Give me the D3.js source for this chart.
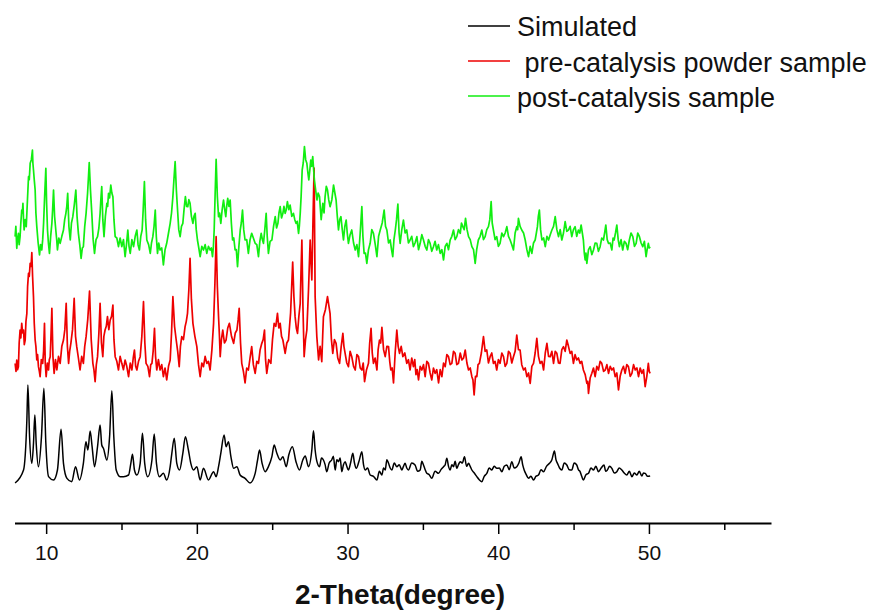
<!DOCTYPE html>
<html>
<head>
<meta charset="utf-8">
<script src="https://cdn.jsdelivr.net/npm/d3@7"></script>
<style>
  body { margin: 0; background: #fff; }
  svg { display: block; font-family: Arial, "Liberation Sans", sans-serif; }
</style>
</head>
<body>
<svg id="chart" width="878" height="610"></svg>
<script>
// ---------- DATA (2θ in degrees, intensity in a.u. above each pattern's own baseline) ----------
const simTheta = [7.94,8.50,8.72,8.79,8.90,9.05,9.16,9.25,9.34,9.49,9.69,9.85,9.98,10.16,10.49,10.75,10.99,11.15,11.38,11.70,11.95,12.21,12.47,12.64,12.77,12.92,13.05,13.21,13.41,13.58,13.69,13.80,14.03,14.21,14.36,14.49,14.65,14.91,15.13,15.47,15.62,15.73,15.86,16.02,16.24,16.39,16.54,16.74,17.02,17.17,17.32,17.52,17.78,18.00,18.23,18.34,18.50,18.67,18.85,19.07,19.24,19.44,19.60,19.78,20.00,20.22,20.44,20.77,21.11,21.28,21.44,21.59,21.81,21.94,22.10,22.26,22.44,22.66,22.87,23.20,23.53,23.87,24.03,24.16,24.33,24.53,24.75,24.98,25.13,25.31,25.53,25.71,25.93,26.10,26.34,26.58,26.81,27.03,27.19,27.41,27.63,27.74,27.85,27.97,28.14,
  28.27,28.40,28.51,28.62,28.78,28.95,29.06,29.18,29.29,29.40,29.51,29.62,29.73,29.84,29.95,30.06,30.20,30.35,30.46,30.58,30.76,30.95,31.06,31.17,31.33,31.50,31.72,31.95,32.11,32.28,32.39,32.50,32.61,32.72,32.83,32.94,33.10,33.27,33.43,33.60,33.71,33.82,33.93,34.04,34.26,34.48,34.65,34.82,34.93,35.04,35.15,35.26,35.42,35.59,35.81,36.04,36.20,36.37,36.48,36.59,36.70,36.81,36.92,37.03,37.14,37.25,37.36,37.48,37.62,37.76,37.90,38.03,38.14,38.25,38.41,38.58,38.74,38.91,39.07,39.24,39.40,39.57,39.73,39.90,40.07,40.24,40.40,40.57,40.73,40.90,41.06,41.23,41.37,41.52,41.62,41.72,41.86,42.01,42.17,42.34,42.50,42.67,42.84,43.01,43.20,43.40,43.56,43.73,43.83,43.93,44.07,44.22,44.38,44.55,44.71,44.88,45.04,45.21,45.32,45.43,45.54,45.65,45.82,45.99,46.15,46.32,46.48,46.65,46.83,47.02,47.13,47.24,47.39,47.54,47.70,47.87,48.03,48.20,48.36,48.53,48.70,48.87,49.03,49.20,49.36,49.53,49.64,49.75,49.91,50.08];
const simIntensity = [0,39,189,294,139,59,119,204,119,49,139,284,119,19,9,39,161,59,14,4,49,9,59,124,99,156,109,49,109,174,114,104,69,139,277,139,39,19,19,24,59,86,39,24,59,149,59,19,69,147,59,19,29,9,49,89,134,59,39,89,139,99,59,39,49,9,44,9,34,19,49,89,144,109,124,79,44,49,24,14,0,29,69,99,59,34,49,79,114,89,69,79,49,84,109,64,39,69,81,49,99,157,99,64,49,
  75,69,55,34,60,69,80,39,70,64,75,34,55,64,50,39,60,89,60,44,65,94,55,39,45,24,20,9,35,24,45,39,70,59,45,39,60,49,55,39,50,59,45,39,60,54,35,39,65,54,40,29,25,14,35,29,40,49,55,74,50,39,55,49,65,44,55,64,60,79,50,59,50,39,30,19,10,4,20,29,45,39,50,44,45,34,50,54,40,64,45,49,60,79,55,39,25,14,20,9,20,24,40,34,50,59,70,96,70,59,45,39,60,54,40,39,60,54,40,34,20,9,25,29,45,39,50,34,45,54,35,39,50,44,30,34,45,39,30,24,35,19,30,24,35,21,30,29,20,21];

const preTheta = [7.94,8.00,8.05,8.10,8.16,8.21,8.27,8.32,8.38,8.44,8.50,8.55,8.61,8.66,8.72,8.77,8.83,8.88,8.94,9.00,9.05,9.10,9.16,9.21,9.27,9.32,9.38,9.43,9.49,9.55,9.60,9.68,9.77,9.83,9.89,9.94,10.00,10.08,10.16,10.21,10.27,10.32,10.38,10.45,10.53,10.62,10.71,10.82,10.93,11.04,11.15,11.24,11.33,11.41,11.49,11.56,11.64,11.75,11.86,11.95,12.03,12.14,12.25,12.36,12.47,12.56,12.65,12.76,12.88,12.99,13.10,13.17,13.25,13.33,13.41,13.50,13.58,13.67,13.76,13.83,13.91,13.99,14.07,14.16,14.25,14.34,14.43,14.50,14.58,14.69,14.80,14.91,15.02,15.13,15.24,15.35,15.47,15.58,15.69,15.78,15.86,15.94,16.02,16.13,16.24,16.35,16.46,16.55,16.63,16.75,16.86,16.94,17.02,17.10,17.19,17.26,17.34,17.45,17.56,17.67,17.78,17.89,18.00,18.12,18.23,18.32,18.41,18.52,18.63,18.73,18.83,18.91,19.00,19.11,19.22,19.30,19.38,19.47,19.55,19.64,19.74,19.87,20.00,20.11,20.22,20.33,20.44,20.55,20.66,20.77,20.88,21.00,21.11,21.20,21.28,21.36,21.44,21.50,21.55,21.63,21.72,21.83,21.94,22.05,22.16,22.30,22.44,22.55,22.66,22.74,22.81,22.90,22.98,23.09,23.20,23.31,23.42,23.53,23.64,23.75,23.87,23.98,24.09,24.20,24.31,24.40,24.49,24.56,24.64,24.77,24.91,25.02,25.13,25.24,25.35,25.44,25.53,25.62,25.71,25.78,25.86,25.97,26.08,26.22,26.36,26.44,26.52,26.60,26.68,26.77,26.86,26.91,26.97,27.04,27.12,27.21,27.30,27.41,27.52,27.58,27.63,27.70,27.78,27.82,27.85,27.96,28.08,28.18,28.29,28.35,
  28.40,28.53,28.67,28.75,28.84,28.93,29.02,29.13,29.24,29.35,29.47,29.58,29.69,29.76,29.84,29.95,30.06,30.17,30.28,30.40,30.51,30.62,30.73,30.84,30.95,31.04,31.13,31.26,31.39,31.47,31.56,31.64,31.72,31.83,31.95,32.03,32.12,32.20,32.28,32.39,32.50,32.61,32.72,32.80,32.87,32.96,33.05,33.16,33.27,33.36,33.45,33.56,33.67,33.80,33.93,34.04,34.15,34.26,34.37,34.46,34.54,34.62,34.71,34.82,34.93,35.04,35.15,35.26,35.37,35.48,35.59,35.70,35.81,35.92,36.04,36.15,36.26,36.37,36.48,36.59,36.70,36.81,36.92,37.03,37.14,37.25,37.36,37.48,37.59,37.70,37.81,37.92,38.03,38.14,38.25,38.32,38.40,38.49,38.58,38.66,38.75,38.88,39.02,39.13,39.24,39.35,39.46,39.57,39.68,39.79,39.90,40.01,40.12,40.24,40.35,40.46,40.57,40.68,40.79,40.90,41.01,41.12,41.23,41.34,41.45,41.56,41.68,41.79,41.90,42.01,42.12,42.23,42.34,42.45,42.56,42.67,42.78,42.90,43.01,43.12,43.23,43.34,43.45,43.56,43.67,43.78,43.89,44.00,44.10,44.22,44.33,44.44,44.55,44.66,44.77,44.88,44.99,45.10,45.21,45.32,45.43,45.54,45.65,45.77,45.88,45.94,45.99,46.10,46.21,46.32,46.43,46.54,46.65,46.76,46.87,46.99,47.10,47.21,47.32,47.43,47.54,47.65,47.76,47.87,47.98,48.09,48.20,48.31,48.42,48.53,48.64,48.76,48.87,48.98,49.09,49.20,49.31,49.42,49.53,49.64,49.75,49.86,49.96,50.02,50.08];
const preIntensity = [59,35,69,40,49,120,159,135,179,150,159,115,129,185,209,290,329,320,359,350,391,320,259,180,129,110,69,85,49,35,19,70,59,95,179,60,19,60,39,70,79,140,224,80,29,70,39,80,59,110,129,160,239,110,59,95,119,160,254,140,109,75,39,80,59,110,139,190,276,130,59,40,4,55,79,150,239,120,79,140,159,170,199,160,189,200,234,130,79,65,39,80,59,40,69,50,19,60,39,75,99,50,39,65,79,140,244,120,59,50,19,55,59,95,164,80,39,70,39,55,19,45,9,50,69,150,259,170,129,95,49,110,139,130,169,185,209,280,374,250,179,140,109,55,19,60,49,80,59,65,39,100,179,300,439,290,199,140,79,130,159,120,129,165,179,140,119,150,159,190,224,120,59,35,0,45,39,75,109,55,29,65,59,100,119,130,159,70,29,70,59,130,179,170,209,165,179,140,129,110,89,120,129,210,363,260,199,165,149,200,239,330,429,230,79,130,159,280,429,360,309,470,645,430,259,140,69,110,64,140,
  199,220,259,235,209,130,89,130,119,75,59,110,149,110,89,60,49,95,79,50,39,85,79,45,39,60,4,40,59,120,164,90,59,75,39,100,129,120,167,100,79,110,109,65,39,45,0,90,159,110,89,110,79,90,59,70,39,75,49,70,25,40,9,50,39,55,19,65,59,30,9,45,29,40,0,40,19,60,49,85,79,55,59,95,89,55,59,90,69,75,99,60,39,45,19,10,-36,20,19,55,59,90,139,95,99,60,79,90,59,65,39,70,59,90,79,50,59,95,89,60,79,95,144,100,99,55,39,45,19,30,-1,50,59,90,134,80,59,65,39,90,119,80,79,95,59,95,89,60,59,100,109,95,129,110,89,95,59,85,69,75,59,65,39,25,-1,5,-31,15,29,45,19,50,39,65,59,35,39,55,29,50,39,45,19,30,-21,20,39,50,29,55,49,20,29,55,39,45,19,45,29,40,-11,20,59,35,29];

const postTheta = [7.94,7.99,8.05,8.10,8.16,8.21,8.27,8.32,8.38,8.42,8.46,8.50,8.54,8.61,8.68,8.76,8.83,8.88,8.94,9.02,9.09,9.12,9.16,9.21,9.27,9.32,9.38,9.47,9.56,9.63,9.71,9.77,9.83,9.90,9.98,10.03,10.09,10.15,10.22,10.30,10.38,10.43,10.49,10.56,10.64,10.70,10.75,10.84,10.93,11.04,11.15,11.23,11.31,11.37,11.43,11.51,11.60,11.68,11.77,11.87,11.97,12.05,12.14,12.23,12.32,12.40,12.47,12.56,12.65,12.75,12.86,12.94,13.03,13.12,13.21,13.31,13.41,13.50,13.58,13.63,13.69,13.76,13.84,13.93,14.03,14.08,14.14,14.21,14.29,14.36,14.43,14.50,14.58,14.69,14.80,14.91,15.02,15.13,15.24,15.33,15.42,15.50,15.58,15.69,15.80,15.91,16.02,16.10,16.19,16.28,16.37,16.44,16.52,16.60,16.68,16.80,16.91,16.99,17.08,17.16,17.24,17.31,17.39,17.47,17.56,17.67,17.78,17.89,18.00,18.12,18.23,18.32,18.41,18.48,18.56,18.64,18.72,18.80,18.89,18.98,19.07,19.15,19.24,19.32,19.40,19.47,19.55,19.64,19.74,19.81,19.89,19.96,20.04,20.13,20.22,20.33,20.44,20.55,20.66,20.77,20.88,20.96,21.04,21.10,21.15,21.21,21.28,21.36,21.44,21.51,21.59,21.68,21.77,21.85,21.92,21.98,22.05,22.13,22.21,22.29,22.37,22.45,22.54,22.62,22.70,22.79,22.88,22.95,23.03,23.11,23.20,23.31,23.42,23.53,23.64,23.75,23.87,23.98,24.09,24.18,24.27,24.35,24.42,24.51,24.60,24.67,24.75,24.86,24.98,25.09,25.20,25.29,25.38,25.45,25.53,25.62,25.71,25.78,25.86,25.93,26.01,26.10,26.19,26.30,26.41,26.50,26.58,26.66,26.75,26.80,26.86,26.92,26.99,27.06,27.14,27.22,27.30,27.37,27.43,27.50,27.56,27.62,27.69,27.75,27.80,27.88,27.97,28.05,28.14,28.25,
  28.36,28.44,28.51,28.59,28.67,28.75,28.84,28.96,29.07,29.16,29.24,29.32,29.40,29.48,29.56,29.65,29.73,29.82,29.91,29.98,30.06,30.17,30.28,30.40,30.51,30.62,30.73,30.84,30.95,31.02,31.10,31.19,31.28,31.39,31.50,31.61,31.72,31.84,31.95,32.06,32.17,32.30,32.43,32.52,32.61,32.72,32.83,32.92,33.00,33.08,33.17,33.25,33.34,33.42,33.49,33.60,33.71,33.82,33.93,34.04,34.15,34.26,34.37,34.48,34.60,34.71,34.82,34.93,35.04,35.15,35.26,35.37,35.48,35.59,35.70,35.81,35.92,36.03,36.15,36.26,36.37,36.48,36.59,36.70,36.81,36.92,37.03,37.14,37.25,37.36,37.48,37.56,37.65,37.74,37.83,37.93,38.03,38.14,38.25,38.36,38.47,38.57,38.68,38.80,38.91,39.02,39.13,39.24,39.35,39.44,39.53,39.60,39.68,39.79,39.90,40.01,40.12,40.24,40.35,40.46,40.57,40.68,40.79,40.90,41.01,41.12,41.23,41.29,41.34,41.45,41.56,41.68,41.79,41.90,42.01,42.12,42.23,42.34,42.45,42.53,42.60,42.66,42.73,42.81,42.90,43.01,43.12,43.23,43.34,43.45,43.56,43.67,43.78,43.89,44.00,44.11,44.22,44.33,44.44,44.55,44.66,44.77,44.88,44.99,45.10,45.21,45.32,45.41,45.50,45.58,45.65,45.71,45.77,45.82,45.88,45.99,46.10,46.21,46.32,46.43,46.54,46.65,46.76,46.87,46.98,47.06,47.14,47.23,47.32,47.43,47.54,47.62,47.69,47.78,47.87,47.96,48.04,48.15,48.26,48.37,48.48,48.59,48.70,48.81,48.93,49.04,49.15,49.26,49.37,49.48,49.59,49.70,49.81,49.88,49.96,50.02,50.08];
const postIntensity = [79,110,44,70,89,55,79,120,159,150,179,130,99,130,109,190,259,250,299,310,339,300,279,250,219,150,109,60,24,55,39,70,119,200,284,180,99,60,29,80,119,160,219,140,99,70,39,75,59,80,99,130,149,170,209,110,69,120,139,175,219,140,89,55,14,45,49,110,149,210,301,220,149,70,29,70,79,105,149,190,229,130,79,140,179,170,209,195,234,210,199,130,79,75,49,75,49,70,19,55,99,50,29,70,49,80,99,55,39,80,99,160,244,130,69,55,29,60,79,110,159,80,29,60,39,45,-6,40,59,90,119,150,199,250,304,220,159,100,79,110,119,160,199,170,169,190,179,140,119,140,149,100,69,45,19,50,39,55,29,50,39,45,19,50,99,200,311,200,139,150,119,160,189,160,139,170,194,170,189,120,69,75,39,40,-11,50,99,120,159,100,69,70,29,70,89,75,59,55,19,65,89,70,59,100,149,80,29,65,69,110,139,105,119,150,169,135,149,170,149,160,184,160,174,140,149,130,119,125,89,110,149,200,279,300,349,310,299,270,249,280,309,290,319,280,249,220,189,210,199,130,
  179,150,199,230,219,190,169,190,234,210,189,140,99,130,139,100,69,110,129,90,59,85,99,60,39,55,19,90,169,80,29,30,-1,40,59,100,89,55,19,80,99,120,159,110,99,60,69,40,19,70,99,130,177,90,59,100,129,90,99,60,69,80,49,60,79,40,59,85,69,50,39,70,59,35,49,65,39,55,29,40,9,50,59,40,69,80,99,70,79,100,89,120,109,100,134,100,79,70,49,40,-1,40,69,80,99,70,79,100,109,130,184,120,99,70,79,50,59,90,79,90,109,80,69,55,39,90,109,100,134,110,99,90,69,40,19,50,29,60,69,90,109,140,159,100,69,75,49,80,69,85,99,110,139,100,79,100,69,90,124,95,99,110,79,100,109,80,99,90,114,90,69,30,9,30,-1,40,49,25,39,60,59,35,49,75,69,90,114,70,59,60,39,75,69,90,114,70,49,70,39,65,59,40,69,90,79,50,59,90,79,60,49,65,19,40,59,45,49];

const seriesNames   = ["Simulated", " pre-catalysis powder sample", "post-catalysis sample"];
const seriesOffsets = [0, 300, 660];           // vertical stacking offsets (a.u.)
const xTickValues   = [10, 20, 30, 40, 50];
const xMinorTicks   = [15, 25, 35, 45, 55];
const xAxisTitle    = "2-Theta(degree)";

// ---------- SETUP ----------
const seriesColors = ["#000000", "#ee0000", "#11ee11"];
const seriesData = [
  d3.zip(simTheta, simIntensity),
  d3.zip(preTheta, preIntensity),
  d3.zip(postTheta, postIntensity)
];

const svg = d3.select("#chart");
const x = d3.scaleLinear().domain([7.9, 58.1]).range([14.5, 771]);
const y = d3.scaleLinear().domain([0, 1440]).range([483, 3]);
const axisY = 523;

// ---------- TRACES ----------
seriesData.forEach((data, i) => {
  const line = d3.line()
    .curve(i === 0 ? d3.curveMonotoneX : d3.curveLinear)
    .x(d => x(d[0]))
    .y(d => y(d[1] + seriesOffsets[i]));
  svg.append("path")
    .datum(data)
    .attr("fill", "none")
    .attr("stroke", seriesColors[i])
    .attr("stroke-width", i === 0 ? 1.5 : 1.7)
    .attr("stroke-linejoin", "round")
    .attr("d", line);
});

// ---------- X AXIS ----------
const gMinor = svg.append("g").attr("transform", `translate(0,${axisY})`)
  .call(d3.axisBottom(x).tickValues(xMinorTicks).tickSize(7).tickFormat(""));
gMinor.select(".domain").remove();
gMinor.selectAll(".tick line").attr("stroke", "#000").attr("stroke-width", 1.5);

const gAxis = svg.append("g").attr("transform", `translate(0,${axisY})`)
  .call(d3.axisBottom(x).tickValues(xTickValues).tickSize(11).tickSizeOuter(0).tickPadding(11).tickFormat(d3.format("d")));
gAxis.select(".domain").attr("stroke", "#000").attr("stroke-width", 2);
gAxis.selectAll(".tick line").attr("stroke", "#000").attr("stroke-width", 1.5);
gAxis.selectAll(".tick text")
  .attr("fill", "#111")
  .style("font-family", "Arial, 'Liberation Sans', sans-serif")
  .style("font-size", "21px");

svg.append("text")
  .attr("x", 400)
  .attr("y", 604)
  .attr("text-anchor", "middle")
  .style("font-size", "28px")
  .style("font-weight", "bold")
  .attr("fill", "#111")
  .text(xAxisTitle);

// ---------- LEGEND ----------
const legendBaselines = [36, 71.5, 107];
const legendLineY = [26, 61, 96];
seriesNames.forEach((name, i) => {
  svg.append("line")
    .attr("x1", 468).attr("x2", 510)
    .attr("y1", legendLineY[i]).attr("y2", legendLineY[i])
    .attr("stroke", seriesColors[i])
    .attr("stroke-width", 1.5);
  svg.append("text")
    .attr("x", 517).attr("y", legendBaselines[i])
    .style("font-size", "27px")
    .style("white-space", "pre")
    .attr("xml:space", "preserve")
    .attr("fill", "#111")
    .text(name);
});
</script>
</body>
</html>
